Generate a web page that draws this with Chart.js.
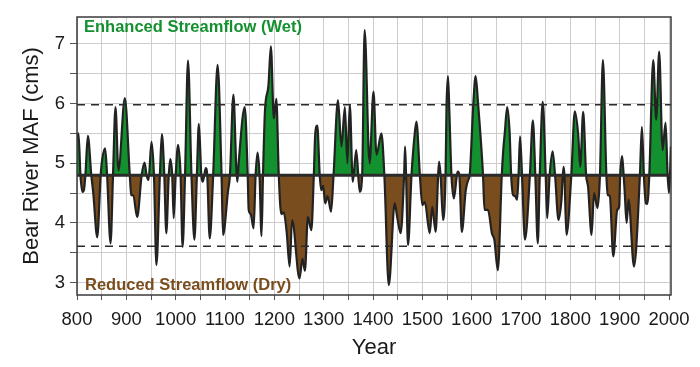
<!DOCTYPE html>
<html>
<head>
<meta charset="utf-8">
<script src="https://cdn.jsdelivr.net/npm/chart.js@4.4.0/dist/chart.umd.min.js"></script>
<style>
  html, body { margin: 0; padding: 0; background: #fff; }
  #wrap { width: 700px; height: 367px; }
</style>
</head>
<body>
<div id="wrap"><canvas id="flowChart" width="700" height="367"></canvas></div>
<script>
// Años y caudal reconstruido (MAF)
const years = [
  800, 803, 807, 811, 814, 817, 822, 829, 833, 841, 848, 851, 857, 861, 868, 873, 878, 884, 897,
  907, 910, 914, 922, 931, 937, 941, 945, 951, 956, 961, 968, 972, 977, 981, 986, 989, 993, 996,
  1000, 1005, 1010, 1014, 1019, 1025, 1032, 1038, 1043, 1047, 1052, 1055, 1061, 1064, 1069, 1076,
  1085, 1093, 1096, 1106, 1110, 1117, 1123, 1125, 1128, 1140, 1146, 1148, 1152, 1158, 1162, 1166,
  1170, 1174, 1177, 1181, 1188, 1193, 1199, 1204, 1209, 1214, 1219, 1225, 1231, 1236, 1251, 1257, 1262,
  1268, 1275, 1280, 1283, 1287, 1292, 1295, 1299, 1303, 1308, 1315, 1320, 1329, 1336, 1343, 1348,
  1353, 1359, 1366, 1373, 1378, 1383, 1393, 1401, 1407, 1417, 1423, 1432, 1444, 1449, 1456, 1463,
  1465, 1467, 1471, 1478, 1484, 1488, 1495, 1500, 1505, 1515, 1520, 1527, 1532, 1534, 1537, 1542, 1547,
  1549, 1552, 1555, 1559, 1564, 1570, 1572, 1575, 1580, 1588, 1593, 1596, 1603, 1608, 1613, 1618, 1623,
  1626, 1633, 1641, 1646, 1653, 1661, 1664, 1667, 1672, 1677, 1680, 1684, 1688, 1692, 1695, 1698, 1702,
  1708, 1718, 1724, 1729, 1734, 1738, 1744, 1750, 1753, 1758, 1764, 1769, 1776, 1782, 1786, 1788,
  1792, 1802, 1809, 1816, 1820, 1826, 1832, 1836, 1843, 1848, 1855, 1860, 1866, 1873, 1876, 1880,
  1887, 1895, 1899, 1901, 1905, 1908, 1910, 1914, 1918, 1929, 1941, 1945, 1949, 1953, 1956, 1960,
  1968, 1974, 1980, 1987, 1993, 1997, 2000, 2004
];
const flow = [
  5.39, 5.50, 4.80, 4.52, 4.55, 4.80, 5.46, 4.80, 4.50, 3.76, 4.80, 5.06, 5.25, 4.80, 3.66, 4.80, 5.94, 4.88, 6.09,
  4.80, 4.47, 4.46, 4.10, 4.80, 5.01, 4.80, 4.72, 5.36, 4.80, 3.30, 4.80, 5.49, 4.80, 3.83, 4.80, 5.07, 4.80, 4.08,
  4.80, 5.31, 4.80, 3.60, 4.80, 6.72, 4.80, 3.72, 4.80, 5.66, 4.80, 4.69, 4.92, 4.80, 3.74, 4.80,
  6.65, 4.80, 3.80, 4.53, 4.80, 6.15, 4.90, 4.69, 5.04, 5.94, 4.80, 4.22, 4.15, 3.91, 4.80, 5.18,
  4.80, 3.78, 4.80, 5.88, 6.30, 6.96, 5.75, 6.08, 4.80, 4.15, 4.18, 3.85, 3.27, 4.05, 3.07, 3.40, 3.20,
  4.10, 3.88, 4.80, 5.50, 5.63, 4.80, 4.55, 4.62, 4.33, 4.45, 4.19, 4.80, 6.06, 5.28, 5.94, 5.00,
  5.98, 4.69, 5.22, 4.52, 4.80, 7.23, 5.00, 6.20, 5.14, 5.50, 4.80, 2.96, 4.33, 4.10, 3.83, 4.80,
  5.28, 4.80, 3.63, 4.80, 5.45, 5.70, 4.80, 4.30, 4.35, 3.83, 4.27, 3.85, 4.80, 5.03, 4.80, 4.05, 4.80,
  5.95, 6.46, 5.80, 4.80, 4.41, 4.80, 4.86, 4.80, 3.85, 4.55, 4.72, 4.80, 5.95, 6.46, 6.00, 5.45, 4.80,
  4.22, 4.22, 3.83, 3.72, 3.21, 4.80, 5.22, 5.50, 5.94, 5.50, 4.80, 4.47, 4.45, 4.39, 4.80, 5.45, 4.80,
  3.72, 4.80, 5.72, 4.80, 3.66, 4.80, 6.03, 4.80, 4.08, 4.80, 5.20, 4.80, 4.05, 4.39, 4.94, 4.80,
  3.80, 4.80, 5.87, 5.47, 4.94, 5.86, 4.80, 4.60, 3.80, 4.50, 4.25, 4.80, 6.73, 4.80, 4.47, 4.45,
  3.44, 4.22, 4.27, 4.80, 5.12, 4.80, 4.55, 4.00, 4.39, 3.27, 4.80, 5.61, 4.80, 4.33, 4.32, 4.80,
  6.73, 5.73, 6.87, 5.22, 5.68, 4.83, 4.50, 5.28
];
const meanFlow = 4.8;
const upperLimit = 5.98;
const lowerLimit = 3.61;
const xTicks = [800, 900, 1000, 1100, 1200, 1300, 1400, 1500, 1600, 1700, 1800, 1900, 2000];
const yTicks = [3, 4, 5, 6, 7];

const FONT = "'Liberation Sans', Arial, sans-serif";
const GREEN = '#14912f';
const BROWN = '#7a4d1e';

// Líneas de referencia horizontales
function hLine(v, width, dash) {
  return {
    data: [{ x: 800, y: v }, { x: 2004, y: v }],
    borderColor: '#2b2b2b',
    borderWidth: width,
    borderDash: dash,
    pointRadius: 0,
    fill: false,
    order: 0
  };
}

// Cuadro del área de trazado y textos internos
const frame = {
  id: 'frame',
  afterDatasetsDraw(chart) {
    const { ctx, chartArea: a } = chart;
    ctx.save();
    ctx.strokeStyle = '#3a3a3a';
    ctx.lineWidth = 1.5;
    ctx.strokeRect(a.left, a.top, a.right - a.left, a.bottom - a.top);
    ctx.font = 'bold 16.5px ' + FONT;
    ctx.textBaseline = 'alphabetic';
    ctx.textAlign = 'left';
    ctx.fillStyle = GREEN;
    ctx.fillText('Enhanced Streamflow (Wet)', a.left + 7, a.top + 15);
    ctx.fillStyle = BROWN;
    ctx.fillText('Reduced Streamflow (Dry)', a.left + 8, a.bottom - 5);
    ctx.restore();
  }
};

const points = years.map((y, i) => ({ x: y, y: flow[i] }));

const config = {
  type: 'line',
  data: {
    datasets: [
      hLine(meanFlow, 3, []),
      hLine(upperLimit, 1.6, [8, 6]),
      hLine(lowerLimit, 1.6, [8, 6]),
      {
        data: points,
        borderColor: '#222',
        borderWidth: 2.2,
        pointRadius: 0,
        cubicInterpolationMode: 'monotone',
        fill: { target: { value: meanFlow }, above: GREEN, below: BROWN },
        order: 1
      }
    ]
  },
  options: {
    responsive: false,
    animation: false,
    layout: { padding: { top: 17, right: 29, left: 0, bottom: 0 } },
    plugins: { legend: { display: false }, tooltip: { enabled: false } },
    scales: {
      x: {
        type: 'linear',
        min: 800,
        max: 2004,
        afterBuildTicks: s => {
          const t = [];
          for (let v = 800; v <= 2000; v += 50) t.push({ value: v });
          s.ticks = t;
        },
        afterFit: s => { s.height = 72; },
        ticks: {
          autoSkip: false,
          maxRotation: 0,
          padding: 9,
          color: '#1a1a1a',
          font: { family: FONT, size: 18.5 },
          callback: v => xTicks.includes(v) ? String(v) : ''
        },
        grid: { color: '#cdcdcd', lineWidth: 1, tickLength: 5, tickColor: '#555' },
        border: { display: false },
        title: {
          display: true,
          text: 'Year',
          color: '#1a1a1a',
          font: { family: FONT, size: 22 },
          padding: { top: 0, bottom: 6 }
        }
      },
      y: {
        min: 2.794,
        max: 7.45,
        afterBuildTicks: s => {
          const t = [];
          for (let v = 3; v <= 7; v += 0.5) t.push({ value: v });
          s.ticks = t;
        },
        afterFit: s => { s.width = 77; },
        ticks: {
          padding: 5,
          color: '#1a1a1a',
          font: { family: FONT, size: 18.5 },
          callback: v => yTicks.includes(v) ? String(v) : ''
        },
        grid: { color: '#cdcdcd', lineWidth: 1, tickLength: 7, tickColor: '#555' },
        border: { display: false },
        title: {
          display: true,
          text: 'Bear River MAF (cms)',
          color: '#1a1a1a',
          font: { family: FONT, size: 22 },
          padding: { top: 19, bottom: 0 }
        }
      }
    }
  },
  plugins: [frame]
};

new Chart(document.getElementById('flowChart'), config);
</script>
</body>
</html>
